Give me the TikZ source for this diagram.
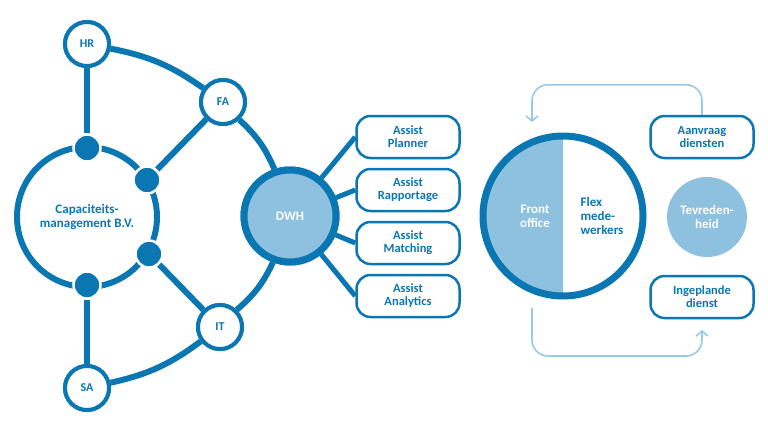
\documentclass[tikz,border=0pt]{standalone}
\usepackage{fontspec}
\setmainfont{Carlito}
\usetikzlibrary{positioning,arrows.meta,calc}
\definecolor{dblue}{HTML}{0A77B3}
\definecolor{lblue}{HTML}{8DC1DF}
\definecolor{ablue}{HTML}{98CAE6}

\begin{document}
\begin{tikzpicture}[x=1pt,y=-1pt,
    dept/.style={circle,draw=dblue,line width=4pt,fill=white,minimum size=44pt,font=\bfseries\fontsize{12}{13}\selectfont,text=dblue},
    dot/.style={circle,fill=dblue,draw=white,line width=2.5pt,minimum size=27pt,inner sep=0pt},
    hub/.style={circle,draw=dblue,line width=7pt,fill=lblue,minimum size=92pt,font=\bfseries\fontsize{13}{14}\selectfont,text=white},
    link/.style={dblue,line width=6pt},
    assist/.style={draw=dblue,line width=2.5pt,rounded corners=14pt,fill=white,minimum width=103pt,minimum height=42pt,align=center,font=\bfseries\fontsize{12.5}{13}\selectfont,text=dblue},
    loop/.style={ablue,line width=1.6pt,rounded corners=16pt,-{Straight Barb[length=5pt,width=12pt]}}
  ]
    \useasboundingbox (0,0) rectangle (768,432);
    % Left network
    \node[circle,draw=dblue,line width=6pt,minimum size=140pt,align=center,font=\bfseries\fontsize{13}{13.5}\selectfont,text=dblue] (cap) at (87,217) {Capaciteits-\\management B.V.};
    \node[dept] (hr) at (87,44) {HR};
    \node[dept] (fa) at (223,102) {FA};
    \node[dept] (it) at (220,327) {IT};
    \node[dept] (sa) at (87,388) {SA};
    \node[hub] (dwh) at (290,216) {DWH};
    \draw[link] (hr) to[bend left=12] (fa);
    \draw[link] (fa) to[bend left=12] (dwh);
    \draw[link] (dwh) to[bend left=12] (it);
    \draw[link] (it) to[bend left=12] (sa);
    \node[dot] (d1) at (87,148) {};
    \node[dot] (d2) at (147,180) {};
    \node[dot] (d3) at (149,254) {};
    \node[dot] (d4) at (87,285) {};
    \draw[link] (hr) -- (d1);
    \draw[link] (fa) -- (d2);
    \draw[link] (it) -- (d3);
    \draw[link] (sa) -- (d4);
    \node[dept] at (hr) {HR};
    \node[dept] at (fa) {FA};
    \node[dept] at (it) {IT};
    \node[dept] at (sa) {SA};
    \node[hub] at (dwh) {DWH};
    % Assist modules
    \foreach \n/\t/\y in {a1/Planner/137,a2/Rapportage/190,a3/Matching/243,a4/Analytics/296}{
      \node[assist] (\n) at (408,\y) {Assist\\\t};
      \draw[link,line width=5pt] (dwh) -- (\n.west);
    }
    % Right cycle
    \fill[lblue] (563,136) arc[start angle=270,end angle=90,radius=80] -- cycle;
    \node[circle,draw=dblue,line width=7pt,minimum size=160pt] (fo) at (563,216) {};
    \node[font=\bfseries\fontsize{13}{14}\selectfont,text=white,align=center] at (535,216) {Front\\office};
    \node[font=\bfseries\fontsize{13}{14}\selectfont,text=dblue,align=left] at (602,216) {Flex\\mede-\\werkers};
    \node[assist] (req) at (702,137) {Aanvraag\\diensten};
    \node[assist] (plan) at (702,297) {Ingeplande\\dienst};
    \node[circle,fill=lblue,minimum size=80pt,align=center,font=\bfseries\fontsize{13}{14}\selectfont,text=white] (tev) at (707,217) {Tevreden-\\heid};
    \coordinate (top) at (532,122);
    \coordinate (bot) at (702,330);
    \draw[loop] (req.north) -- ++(0,-30) -| (top);
    \draw[loop] (532,308) -- (532,356) -| (bot);
\end{tikzpicture}
\end{document}
